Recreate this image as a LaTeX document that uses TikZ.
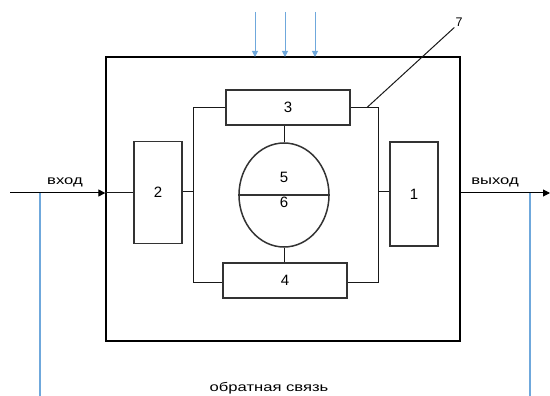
\documentclass[tikz,border=0pt]{standalone}
\usepackage{graphicx}
\usepackage{fontspec}
\setmainfont{Liberation Sans}
\usetikzlibrary{arrows.meta,shapes.geometric}
\definecolor{fb}{HTML}{6FA8DC}
\newcommand\widetxt[1]{\scalebox{1.33}[1]{#1}}
\begin{document}
\begin{tikzpicture}[x=1pt,y=-1pt,
  blk/.style={draw=black!80,line width=1.5pt,inner sep=0pt,font=\fontsize{15}{17}\selectfont},
  wire/.style={draw=black!90,line width=1pt},
  lbl/.style={font=\fontsize{12.5}{14}\selectfont,inner sep=1pt},
  bluearr/.style={draw=fb,line width=1pt,-{Triangle[length=6pt,width=6pt]}},
  blackarr/.style={draw=black,line width=1pt,-{Triangle[length=7pt,width=7pt]}}]
\useasboundingbox (0,0) rectangle (550,396);
% outer box
\node[draw=black,line width=1.3pt,minimum width=354pt,minimum height=284pt,inner sep=0pt] (outer) at (283,199) {};
% blocks
\node[blk,minimum width=124pt,minimum height=35pt] (b3) at (288,107.5) {3};
\node[blk,minimum width=124pt,minimum height=35pt] (b4) at (285,280.5) {4};
\node[blk,minimum width=48pt,minimum height=102pt] (b2) at (158,192.5) {2};
\node[blk,minimum width=48pt,minimum height=104pt] (b1) at (414,194) {1};
\node[draw=black!80,line width=1.5pt,ellipse,minimum width=90pt,minimum height=104pt,inner sep=0pt] (el) at (284,195) {};
\draw[wire,line width=1.5pt,draw=black!80] (el.west) -- (el.east);
\node[blk,draw=none] (n5) at (284,177) {5};
\node[blk,draw=none] (n6) at (284,202) {6};
% internal wiring
\coordinate (lt) at (193,107.5);
\coordinate (lb) at (193,282);
\coordinate (rt) at (378,107.5);
\coordinate (rb) at (378,282);
\draw[wire] (b3.west) -- (lt) -- (lb) -- (b4.west |- lb);
\draw[wire] (b3.east) -- (rt) -- (rb) -- (b4.east |- rb);
\draw[wire] (b2.east |- 0,192) -- (193,192);
\draw[wire] (b1.west |- 0,192) -- (378,192);
\draw[wire] (el.north) -- (b3.south -| el.north);
\draw[wire] (el.south) -- (b4.north -| el.south);
% input
\coordinate (inS) at (10,193);
\draw[blackarr] (inS) -- (outer.west |- inS);
\draw[wire] (outer.west |- inS) -- (b2.west |- inS);
\node[lbl] (vhod) at (65,182) {\widetxt{вход}};
% output
\coordinate (outE) at (550,193);
\draw[blackarr] (outer.east |- outE) -- (outE);
\node[lbl] (vyhod) at (495,182) {\widetxt{выход}};
% feedback
\coordinate (fb1) at (40,193);
\coordinate (fb1e) at (40,396);
\coordinate (fb2) at (530,193);
\coordinate (fb2e) at (530,396);
\draw[fb,line width=1.3pt] (fb1) -- (fb1e);
\draw[fb,line width=1.3pt] (fb2) -- (fb2e);
\node[lbl] (obr) at (269,388) {\widetxt{обратная связь}};
% top inputs
\foreach \x/\n in {255/a,285/b,315/c}{
  \coordinate (t\n) at (\x,12);
  \draw[bluearr] (t\n) -- (\x,57);
}
% pointer 7
\coordinate (p7) at (367,107.5);
\node[lbl] (n7) at (459,22) {7};
\draw[wire] (p7) -- (n7.south west);
\end{tikzpicture}
\end{document}
